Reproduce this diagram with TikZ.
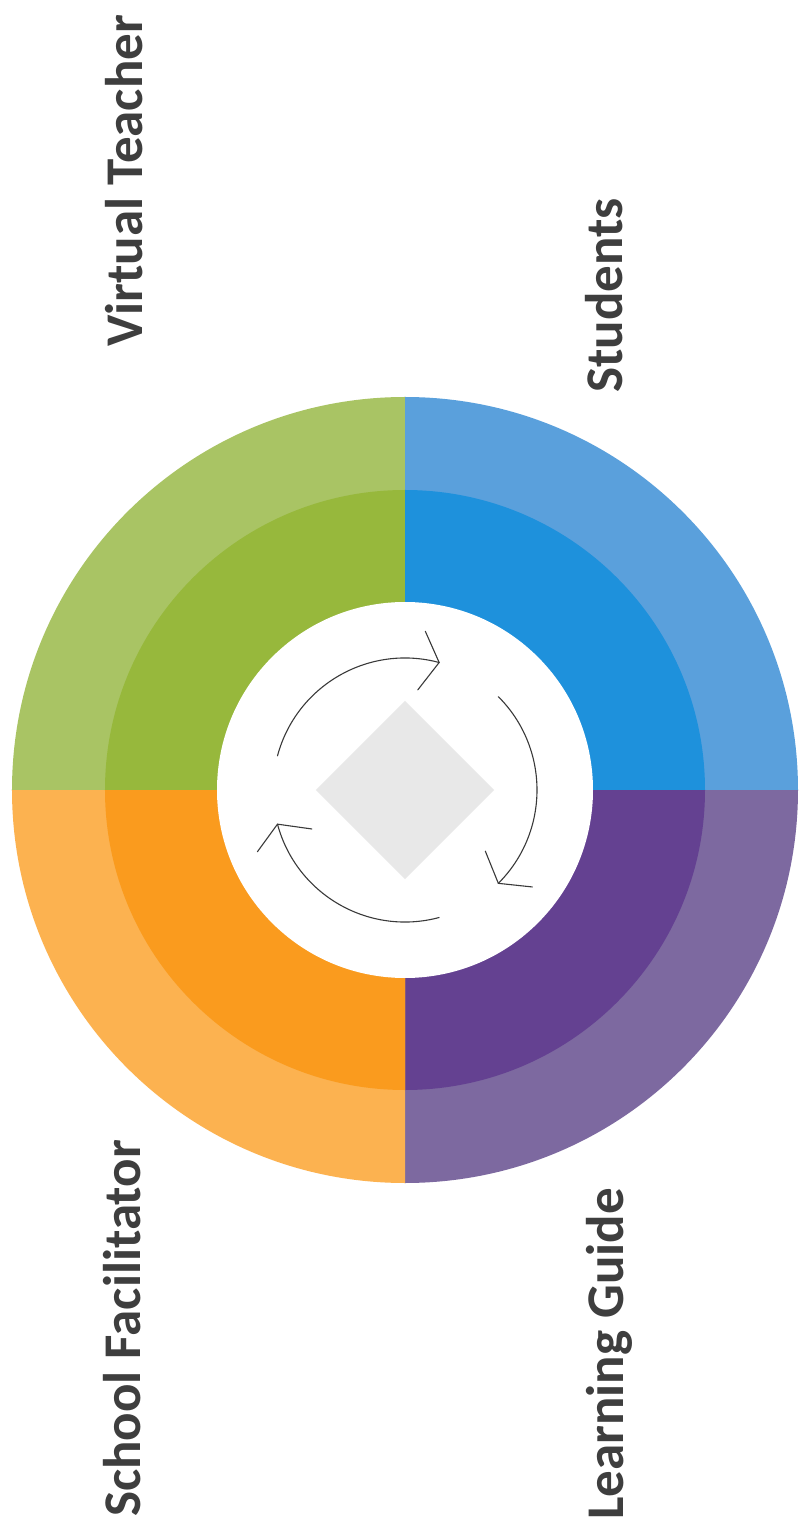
\documentclass[tikz,border=0pt]{standalone}
\usepackage{fontspec}
\setmainfont{Carlito}
\definecolor{gOut}{HTML}{A9C464}
\definecolor{gIn}{HTML}{97B83C}
\definecolor{bOut}{HTML}{5AA0DC}
\definecolor{bIn}{HTML}{1E91DC}
\definecolor{pOut}{HTML}{7D69A0}
\definecolor{pIn}{HTML}{644191}
\definecolor{oOut}{HTML}{FCB250}
\definecolor{oIn}{HTML}{FA9B1E}
\definecolor{txt}{HTML}{3E3E3E}
\definecolor{arr}{HTML}{3A3A3A}
\definecolor{dia}{HTML}{E8E8E8}
\tikzset{
  label text/.style={rotate=90,anchor=base west,inner sep=0pt,text=txt,font=\fontsize{53pt}{60pt}\selectfont\bfseries},
  cycle line/.style={draw=arr,line width=1.1pt,line cap=round,line join=miter}
}
\begin{document}
\begin{tikzpicture}[x=1pt,y=1pt]
\useasboundingbox[fill=white] (-405,-738) rectangle (393,790);
% quadrants: start angles
\foreach \s/\co/\ci in {90/gOut/gIn, 0/bOut/bIn, -90/pOut/pIn, 180/oOut/oIn}{
  \fill[\co] (0,0) -- (\s:393) arc[start angle=\s,delta angle=90,radius=393] -- cycle;
  \fill[\ci] (0,0) -- (\s:300) arc[start angle=\s,delta angle=90,radius=300] -- cycle;
}
\fill[white] (0,0) circle[radius=188];
\fill[dia] (89,0) -- (0,89) -- (-89,0) -- (0,-89) -- cycle;
\foreach \a in {0,-120,-240}{
  \draw[cycle line,rotate=\a] (165:132) arc[start angle=165,end angle=75,radius=132];
  \draw[cycle line,rotate=\a] (82.7:160) -- (75:132) -- (82.7:101);
}
\node[label text] (vt) at (-262,443) {Virtual Teacher};
\node[label text] (st) at (217,397) {Students};
\node[label text] (sf) at (-264,-727) {School Facilitator};
\node[label text] (lg) at (218,-730) {Learning Guide};
\end{tikzpicture}
\end{document}
